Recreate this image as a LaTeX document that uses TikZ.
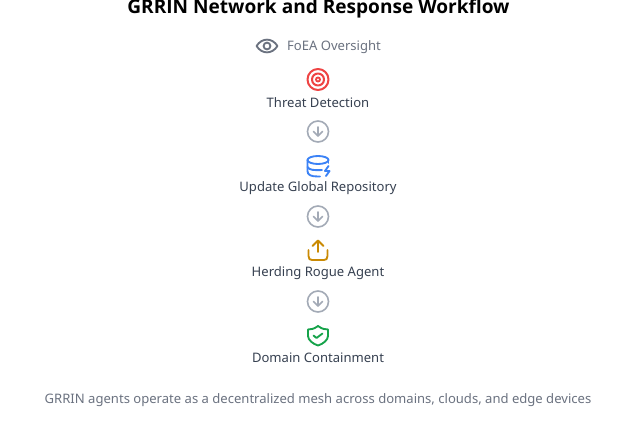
\documentclass[tikz,border=0pt]{standalone}
\usepackage{fontspec}
\setmainfont{Noto Sans}
\newfontfamily\titlefont{Open Sans}
\definecolor{gtext}{HTML}{374151}
\definecolor{gmute}{HTML}{6B7280}
\definecolor{garrow}{HTML}{A3AAB6}
\definecolor{cred}{HTML}{EF4444}
\definecolor{cblue}{HTML}{3B82F6}
\definecolor{cyel}{HTML}{CA8A04}
\definecolor{cgrn}{HTML}{16A34A}
\tikzset{
  x=0.75pt,y=-0.75pt,
  steplabel/.style={font=\fontsize{9.8}{11}\selectfont,text=gtext,inner sep=0pt,anchor=center},
  mutelabel/.style={font=\fontsize{9.8}{11}\selectfont,text=gmute,inner sep=0pt,anchor=center},
  icon/.style={line width=1.4pt,line cap=round,line join=round},
  arrowicon/.pic={
    \draw[icon,garrow,line width=1.2pt] (0,0) circle (10.5);
    \draw[icon,garrow,line width=1.2pt] (0,-4.5) -- (0,4.5) (-4.5,0) -- (0,4.5) -- (4.5,0);
  }
}
\begin{document}
\begin{tikzpicture}
\useasboundingbox (0,0) rectangle (617,428);
\fill[white] (0,0) rectangle (617,428);
\node[font=\titlefont\bfseries\fontsize{14.3}{16}\selectfont,text=black,inner sep=0pt] (title) at (318.5,8) {GRRIN Network and Response Workflow};
% oversight
\draw[icon,gmute] (256.5,46) .. controls (262,37.5) and (272,37.5) .. (277.5,46) .. controls (272,54.5) and (262,54.5) .. (256.5,46) -- cycle;
\draw[icon,gmute] (267,46) circle (3.4);
\node[mutelabel] (oversight) at (334,47.5) {FoEA Oversight};
% threat
\draw[icon,cred,line width=1.5pt] (318,79.5) circle (10.5);
\draw[icon,cred,line width=1.5pt] (318,79.5) circle (6);
\draw[icon,cred,line width=1.4pt] (318,79.5) circle (2);
\node[steplabel] (threat) at (318,102.5) {Threat Detection};
\pic at (318,131.5) {arrowicon};
% database
\draw[icon,cblue] (318,160) ellipse (10.5 and 4);
\draw[icon,cblue] (307.5,160) -- (307.5,171) .. controls (307.5,175) and (311,176.5) .. (318,176.5) -- (320,176.5);
\draw[icon,cblue] (328.5,160) -- (328.5,163);
\draw[icon,cblue] (307.5,167) .. controls (309,170) and (314,170.5) .. (322,170);
\draw[icon,cblue] (328.5,166) -- (325,171) -- (329.5,171) -- (326,176);
\node[steplabel] (repo) at (318,188.5) {Update Global Repository};
\pic at (318,216.5) {arrowicon};
% upload
\draw[icon,cyel] (308.5,250) -- (308.5,256) .. controls (308.5,259) and (310,260) .. (312,260) -- (324,260) .. controls (326,260) and (327.5,259) .. (327.5,256) -- (327.5,250);
\draw[icon,cyel] (318,252) -- (318,241) (312.5,246) -- (318,240.5) -- (323.5,246);
\node[steplabel] (herd) at (318,273.5) {Herding Rogue Agent};
\pic at (318,301.5) {arrowicon};
% shield
\draw[icon,cgrn] (318,326) .. controls (322,329) and (325,329.5) .. (328,329.5) -- (328,336) .. controls (328,340) and (323,344) .. (318,345.5) .. controls (313,344) and (308,340) .. (308,336) -- (308,329.5) .. controls (311,329.5) and (314,329) .. (318,326) -- cycle;
\draw[icon,cgrn] (313.5,335.5) -- (316.5,338) -- (322.5,333.5);
\node[steplabel] (domain) at (318,357.5) {Domain Containment};
\node[mutelabel] (caption) at (318,400) {GRRIN agents operate as a decentralized mesh across domains, clouds, and edge devices};
\end{tikzpicture}
\end{document}
